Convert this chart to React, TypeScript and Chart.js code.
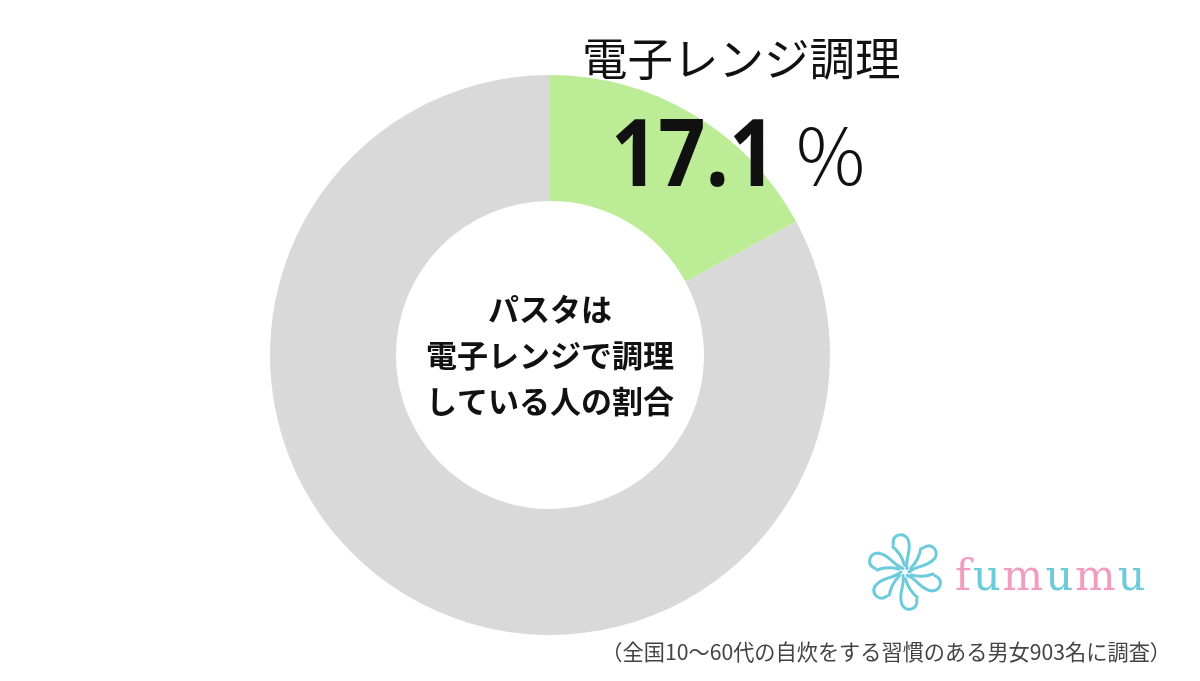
import React, { useEffect, useRef } from "react";
import { Chart, registerables } from "chart.js";

Chart.register(...registerables);

const categories = ["電子レンジ調理", "その他"];
const values = [17.1, 82.9];
const sliceColors = ["#BDEC96", "#D9D9D9"];
const titleLabel = "電子レンジ調理";
const valueLabel = "17.1";
const unitLabel = "％";
const centerLines = ["パスタは", "電子レンジで調理", "している人の割合"];
const footnote = "（全国10～60代の自炊をする習慣のある男女903名に調査）";
const logoLetters = ["f", "u", "m", "u", "m", "u"];
const logoColors = ["#F29CC0", "#6CCBDB", "#F29CC0", "#6CCBDB", "#F29CC0", "#6CCBDB"];

const JP = '"Noto Sans CJK JP", "Noto Sans", sans-serif';

const textPlugin = {
  id: "overlayText",
  afterDraw(chart: any) {
    const ctx = chart.ctx as CanvasRenderingContext2D;
    const meta = chart.getDatasetMeta(0);
    const arc = meta.data[0];
    const cx = arc.x;
    const cy = arc.y;
    ctx.save();
    ctx.fillStyle = "#111";
    ctx.textBaseline = "middle";
    // Title
    ctx.font = `400 45.5px ${JP}`;
    ctx.textAlign = "left";
    ctx.fillText(titleLabel, 582, 59);
    // Value
    ctx.textBaseline = "alphabetic";
    ctx.font = `700 94px "Noto Sans", ${JP}`;
    ctx.save();
    ctx.translate(611, 186);
    ctx.scale(0.88, 1);
    ctx.fillText(valueLabel, 0, 0);
    ctx.restore();
    ctx.font = `300 77px ${JP}`;
    ctx.fillText(unitLabel, 792, 186);
    // Center lines
    ctx.textAlign = "center";
    ctx.textBaseline = "middle";
    ctx.font = `700 31px ${JP}`;
    centerLines.forEach((line, i) => {
      ctx.fillText(line, cx, cy - 46 + i * 46);
    });
    // Footnote
    ctx.textAlign = "right";
    ctx.fillStyle = "#444";
    ctx.font = `400 21.2px ${JP}`;
    ctx.fillText(footnote, 1171, 652);
    // Logo letters
    ctx.textAlign = "left";
    ctx.textBaseline = "alphabetic";
    ctx.font = `400 43px "DejaVu Serif", "Liberation Serif", serif`;
    let x = 955;
    logoLetters.forEach((ch, i) => {
      ctx.fillStyle = logoColors[i];
      ctx.fillText(ch, x, 590);
      x += ctx.measureText(ch).width + 2;
    });
    // Logo flower
    const fx = 905;
    const fy = 572;
    ctx.strokeStyle = "#6CCBDB";
    ctx.lineWidth = 3;
    ctx.lineCap = "round";
    for (let k = 0; k < 6; k++) {
      const a = (k * Math.PI) / 3;
      ctx.save();
      ctx.translate(fx, fy);
      ctx.rotate(a);
      ctx.beginPath();
      ctx.moveTo(4, 0);
      ctx.bezierCurveTo(14, -8, 22, -4, 30, -14);
      ctx.bezierCurveTo(34, -22, 26, -30, 18, -24);
      ctx.stroke();
      ctx.beginPath();
      ctx.moveTo(6, 3);
      ctx.quadraticCurveTo(18, 6, 28, 2);
      ctx.stroke();
      ctx.restore();
    }
    ctx.restore();
  },
};

export default function App() {
  const ref = useRef<HTMLCanvasElement | null>(null);
  useEffect(() => {
    document.body.style.margin = "0";
    const canvas = ref.current;
    if (!canvas) return;
    const chart = new Chart(canvas, {
      type: "doughnut",
      data: {
        labels: categories,
        datasets: [
          {
            data: values,
            backgroundColor: sliceColors,
            borderWidth: 0,
          },
        ],
      },
      options: {
        responsive: false,
        animation: false,
        cutout: "55%",
        layout: { padding: { left: 270, right: 370, top: 75, bottom: 46 } },
        plugins: {
          legend: { display: false },
          tooltip: { enabled: false },
          title: { display: false },
        },
      },
      plugins: [textPlugin],
    });
    return () => chart.destroy();
  }, []);
  return (
    <div style={{ width: 1200, height: 681, background: "#fff" }}>
      <canvas ref={ref} width={1200} height={681} />
    </div>
  );
}
